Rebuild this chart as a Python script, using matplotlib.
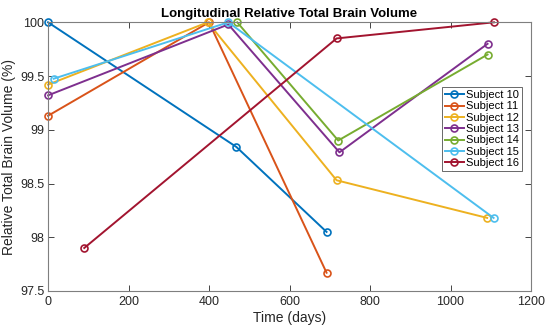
import matplotlib
matplotlib.use('Agg')
import matplotlib.pyplot as plt

plt.rcParams['font.family'] = ['Liberation Sans', 'DejaVu Sans']

subjects = ['Subject 10', 'Subject 11', 'Subject 12', 'Subject 13',
            'Subject 14', 'Subject 15', 'Subject 16']
colors = ['#0072BD', '#D95319', '#EDB120', '#7E2F8E',
          '#77AC30', '#4DBEEE', '#A2142F']

days = [
    [0, 468, 692],
    [0, 400, 692],
    [0, 397, 717, 1091],
    [0, 448, 724, 1092],
    [470, 721, 1092],
    [14, 448, 1107],
    [90, 717, 1108],
]
volume = [
    [100.0, 98.84, 98.05],
    [99.13, 100.0, 97.67],
    [99.42, 100.0, 98.53, 98.18],
    [99.32, 99.98, 98.79, 99.80],
    [100.0, 98.90, 99.70],
    [99.475, 100.0, 98.18],
    [97.90, 99.85, 100.0],
]

fig = plt.figure(figsize=(5.5, 3.26), dpi=100)
ax = fig.add_axes([0.0873, 0.1074, 0.8782, 0.8242])

for name, c, x, y in zip(subjects, colors, days, volume):
    ax.plot(x, y, '-o', color=c, lw=1.4, ms=5, mfc='none', mew=1.2,
            label=name, clip_on=False)

ax.set_xlim(0, 1200)
ax.set_ylim(97.5, 100)
ax.set_xticks([0, 200, 400, 600, 800, 1000, 1200])
ax.set_yticks([97.5, 98, 98.5, 99, 99.5, 100])
ax.set_yticklabels(['97.5', '98', '98.5', '99', '99.5', '100'])
ax.tick_params(direction='in', top=True, right=True, labelsize=9,
               colors='#262626', length=4, width=0.6)
ax.tick_params(axis='y', pad=2.5)
for s in ax.spines.values():
    s.set_color('#7f7f7f')
    s.set_linewidth(0.8)

ax.set_xlabel('Time (days)', fontsize=10, color='#262626', labelpad=2)
ax.set_ylabel('Relative Total Brain Volume (%)', fontsize=10, color='#262626')
ax.yaxis.set_label_coords(-0.066, 0.5)
ax.set_title('Longitudinal Relative Total Brain Volume', fontsize=9.5,
             fontweight='bold', pad=4)

leg = ax.legend(loc='upper right', bbox_to_anchor=(0.981, 0.76), fontsize=8,
                frameon=True, fancybox=False, edgecolor='#262626',
                borderpad=0.3, labelspacing=0.12, handlelength=1.7,
                handletextpad=0.15, borderaxespad=0)
leg.get_frame().set_linewidth(0.6)

fig.savefig('out.png', dpi=100)
